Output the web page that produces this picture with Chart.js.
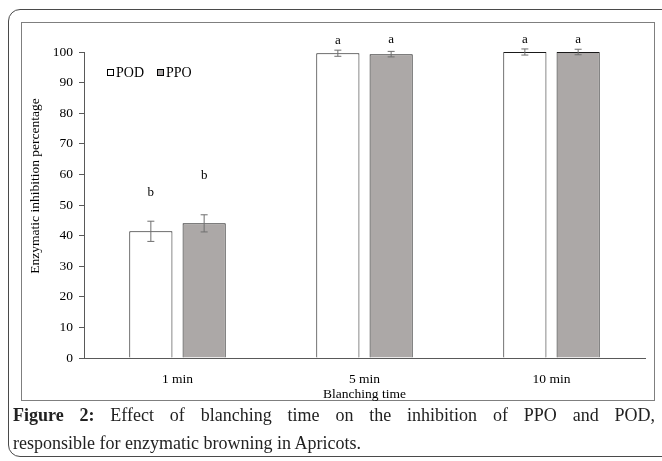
<!DOCTYPE html>
<html>
<head>
<meta charset="utf-8">
<script src="https://cdn.jsdelivr.net/npm/chart.js@4.4.0/dist/chart.umd.min.js"></script>
<style>
  body { margin: 0; background: #fff; }
  #page { position: relative; width: 662px; height: 461px; overflow: hidden; background: #fff; }
  #outer { position: absolute; left: 8px; top: 9px; width: 680px; height: 446px; border: 1.5px solid #4a4a4a; border-radius: 12px; }
  #inner { position: absolute; left: 21px; top: 22px; width: 632px; height: 377px; border: 1.5px solid #7f7f7f; }
  #wrap { position: absolute; left: 0; top: 0; width: 662px; height: 461px; }
  .cap { position: absolute; left: 13px; width: 642px; font-family: 'Liberation Serif', serif; font-size: 18px; color: #222; white-space: nowrap; }
  #cap1 { top: 405px; text-align: justify; text-align-last: justify; }
  #cap2 { top: 433px; }
</style>
</head>
<body>
<div id="page">
  <div id="outer"></div>
  <div id="inner"></div>
  <div id="wrap"><canvas id="chart" width="662" height="461"></canvas></div>
  <div class="cap" id="cap1"><b>Figure 2:</b> Effect of blanching time on the inhibition of PPO and POD,</div>
  <div class="cap" id="cap2">responsible for enzymatic browning in Apricots.</div>
</div>
<script>
// data
const categories = ['1 min', '5 min', '10 min'];
const podValues = [41.4, 99.6, 100];
const ppoValues = [44.0, 99.3, 100];
const podErr = [3.3, 1.0, 1.0];
const ppoErr = [2.8, 0.9, 0.9];
const podLetters = ['b', 'a', 'a'];
const ppoLetters = ['b', 'a', 'a'];
const podLetterPos = [53.9, 103.7, 103.9];
const ppoLetterPos = [59.5, 104.1, 103.9];
const yTicks = [0, 10, 20, 30, 40, 50, 60, 70, 80, 90, 100];

Chart.defaults.font.family = "'Liberation Serif', serif";
Chart.defaults.color = '#000';

// error bars, letters, legend and axis titles
const extras = {
  id: 'extras',
  afterDatasetsDraw: function(chart) {
    const ctx = chart.ctx;
    const y = chart.scales.y;
    const errs = [podErr, ppoErr];
    const letters = [podLetters, ppoLetters];
    const letterPos = [podLetterPos, ppoLetterPos];
    ctx.save();
    chart.data.datasets.forEach(function(ds, i) {
      const meta = chart.getDatasetMeta(i);
      meta.data.forEach(function(bar, j) {
        const v = ds.data[j];
        const top = y.getPixelForValue(v + errs[i][j]);
        const bot = y.getPixelForValue(v - errs[i][j]);
        ctx.strokeStyle = '#6f6f6f';
        ctx.lineWidth = 1;
        ctx.beginPath();
        ctx.moveTo(bar.x, top); ctx.lineTo(bar.x, bot);
        ctx.moveTo(bar.x - 3.5, top); ctx.lineTo(bar.x + 3.5, top);
        ctx.moveTo(bar.x - 3.5, bot); ctx.lineTo(bar.x + 3.5, bot);
        ctx.stroke();

        ctx.fillStyle = '#000';
        ctx.font = "13px 'Liberation Serif'";
        ctx.textAlign = 'center';
        ctx.textBaseline = 'middle';
        ctx.fillText(letters[i][j], bar.x, y.getPixelForValue(letterPos[i][j]));
      });
    });

    // legend
    ctx.font = "14px 'Liberation Serif'";
    ctx.textAlign = 'left';
    ctx.textBaseline = 'middle';
    ctx.lineWidth = 1;
    ctx.strokeStyle = '#000';
    ctx.fillStyle = '#fff';
    ctx.fillRect(107.5, 69.5, 6, 6);
    ctx.strokeRect(107.5, 69.5, 6, 6);
    ctx.fillStyle = '#000';
    ctx.fillText('POD', 116, 73);
    ctx.fillStyle = chart.data.datasets[1].backgroundColor;
    ctx.fillRect(157.5, 69.5, 6, 6);
    ctx.strokeRect(157.5, 69.5, 6, 6);
    ctx.fillStyle = '#000';
    ctx.fillText('PPO', 166, 73);

    // y axis title
    ctx.font = "13.5px 'Liberation Serif'";
    ctx.translate(35, 186);
    ctx.rotate(-Math.PI / 2);
    ctx.textAlign = 'center';
    ctx.fillText('Enzymatic inhibition percentage', 0, 0);
    ctx.restore();

    // x axis title
    ctx.save();
    ctx.font = "13.5px 'Liberation Serif'";
    ctx.textAlign = 'center';
    ctx.textBaseline = 'middle';
    ctx.fillStyle = '#000';
    ctx.fillText('Blanching time', (chart.chartArea.left + chart.chartArea.right) / 2, 394);
    ctx.restore();
  }
};

new Chart(document.getElementById('chart'), {
  type: 'bar',
  data: {
    labels: categories,
    datasets: [
      {
        label: 'POD',
        data: podValues,
        backgroundColor: '#ffffff',
        borderColor: '#1a1a1a',
        borderWidth: 1,
        categoryPercentage: 0.57,
        barPercentage: 0.81
      },
      {
        label: 'PPO',
        data: ppoValues,
        backgroundColor: '#aca8a7',
        borderColor: '#1a1a1a',
        borderWidth: 1,
        categoryPercentage: 0.57,
        barPercentage: 0.81
      }
    ]
  },
  options: {
    responsive: false,
    animation: false,
    layout: { padding: { left: 0, right: 17, top: 52, bottom: 0 } },
    plugins: {
      legend: { display: false },
      tooltip: { enabled: false }
    },
    scales: {
      x: {
        grid: { display: false },
        border: { color: '#595959', width: 1 },
        ticks: { font: { size: 13.5 }, padding: 5, color: '#000' },
        afterFit: function(scale) { scale.height = 103; }
      },
      y: {
        min: 0,
        max: 100,
        afterBuildTicks: function(scale) {
          scale.ticks = yTicks.map(function(v) { return { value: v }; });
        },
        grid: { drawOnChartArea: false, tickLength: 5, tickColor: '#595959' },
        border: { color: '#595959', width: 1 },
        ticks: { font: { size: 13.5 }, padding: 6, color: '#000' },
        afterFit: function(scale) { scale.width = 84; }
      }
    }
  },
  plugins: [extras]
});
</script>
</body>
</html>
